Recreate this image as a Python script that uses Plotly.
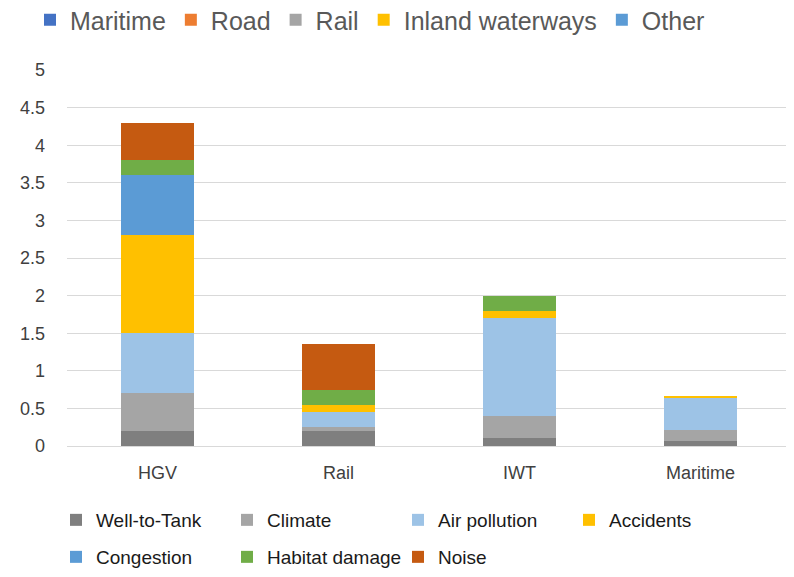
import plotly.graph_objects as go

categories = ["HGV", "Rail", "IWT", "Maritime"]
series_names = ["Well-to-Tank", "Climate", "Air pollution", "Accidents", "Congestion", "Habitat damage", "Noise"]
well_to_tank = [0.2, 0.2, 0.1, 0.06]
climate = [0.5, 0.05, 0.3, 0.15]
air_pollution = [0.8, 0.2, 1.3, 0.44]
accidents = [1.3, 0.1, 0.1, 0.015]
congestion = [0.8, 0.0, 0.0, 0.0]
habitat_damage = [0.2, 0.2, 0.2, 0.0]
noise = [0.5, 0.6, 0.0, 0.0]
series_values = [well_to_tank, climate, air_pollution, accidents, congestion, habitat_damage, noise]
series_colors = ["#7F7F7F", "#A5A5A5", "#9DC3E6", "#FFC000", "#5B9BD5", "#70AD47", "#C55A11"]

mode_names = ["Maritime", "Road", "Rail", "Inland waterways", "Other"]
mode_colors = ["#4472C4", "#ED7D31", "#A5A5A5", "#FFC000", "#5B9BD5"]

y_ticks = [0, 0.5, 1, 1.5, 2, 2.5, 3, 3.5, 4, 4.5, 5]
y_tick_labels = ["0", "0.5", "1", "1.5", "2", "2.5", "3", "3.5", "4", "4.5", "5"]

W, H = 786, 569  # page body has an 8px margin

fig = go.Figure()
for name, color in zip(mode_names, mode_colors):
    fig.add_trace(go.Bar(x=[categories[0]], y=[0], name=name, marker_color=color,
                         marker_line_width=0, legend="legend", showlegend=True,
                         hoverinfo="skip"))
for i, (name, vals, color) in enumerate(zip(series_names, series_values, series_colors)):
    fig.add_trace(go.Bar(x=categories, y=vals, name=name, marker_color=color,
                         marker_line_width=0,
                         legend="legend2" if i < 4 else "legend3"))

font_family = "Liberation Sans, Arial, sans-serif"
bottom_legend = dict(orientation="h", xref="container", yref="container",
                     xanchor="left", yanchor="middle",
                     font=dict(size=19, color="#1a1a1a"), traceorder="normal",
                     entrywidth=126, entrywidthmode="pixels", itemwidth=30)
fig.update_layout(
    barmode="stack",
    bargap=0.6,
    width=W, height=H,
    plot_bgcolor="white", paper_bgcolor="white",
    margin=dict(l=59, r=3, t=62, b=131),
    font=dict(family=font_family, color="#595959", size=18),
    xaxis=dict(type="category", categoryorder="array", categoryarray=categories,
               showgrid=False, showline=True, linecolor="#D9D9D9", linewidth=1,
               tickfont=dict(size=18, color="#404040"), ticks="", ticklabelstandoff=10),
    yaxis=dict(range=[0, 5], tickvals=y_ticks, ticktext=y_tick_labels,
               showgrid=True, gridcolor="#D9D9D9", gridwidth=1, zeroline=False,
               tickfont=dict(size=18, color="#404040"), ticklabelstandoff=21),
    legend=dict(orientation="h", x=22 / W, y=1 - 12 / H, xref="container", yref="container",
                xanchor="left", yanchor="middle",
                font=dict(size=25, color="#595959"), itemwidth=30,
                traceorder="normal"),
    legend2=dict(bottom_legend, x=48 / W, y=1 - 512 / H),
    legend3=dict(bottom_legend, x=48 / W, y=1 - 549 / H),
)
fig.write_html("out.html")
